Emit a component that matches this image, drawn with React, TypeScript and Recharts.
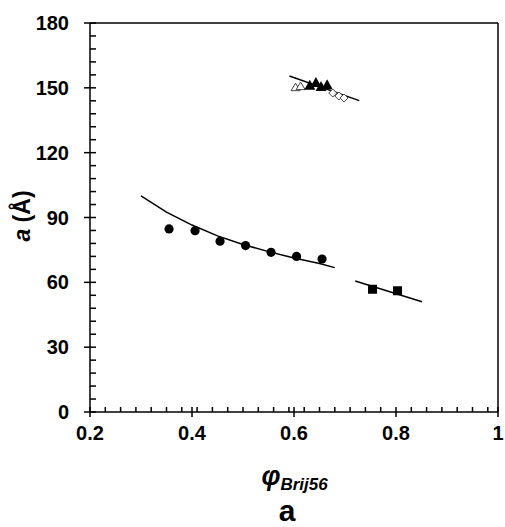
import React from 'react';
import { ScatterChart, Scatter, XAxis, YAxis, ReferenceLine } from 'recharts';

// ---- tick values ----
const xMajorTicks = [0.2, 0.4, 0.6, 0.8, 1.0];
const xMinorTicks = [0.23, 0.26, 0.29, 0.32, 0.35, 0.38, 0.41, 0.44, 0.47, 0.5, 0.53, 0.56, 0.59, 0.62, 0.65, 0.68, 0.71, 0.74, 0.77, 0.83, 0.86, 0.89, 0.92, 0.95, 0.98];
const xTickLabels = ['0.2', '0.4', '0.6', '0.8', '1'];
const yMajorTicks = [0, 30, 60, 90, 120, 150, 180];
const yMinorTicks = [6, 12, 18, 24, 36, 42, 48, 54, 66, 72, 78, 84, 96, 102, 108, 114, 126, 132, 138, 144, 156, 162, 168, 174];
const yTickLabels = ['0', '30', '60', '90', '120', '150', '180'];

// ---- series: filled circles ----
const circlePhi = [0.355, 0.406, 0.455, 0.505, 0.555, 0.605, 0.655];
const circleA = [84.7, 83.9, 79.0, 77.0, 73.9, 72.0, 70.8];
// fit curve for circles
const circleFitPhi = [0.30, 0.35, 0.40, 0.45, 0.50, 0.55, 0.60, 0.65, 0.68];
const circleFitA = [100.0, 92.5, 86.5, 81.5, 77.5, 74.2, 71.3, 68.7, 66.8];

// ---- series: filled squares ----
const squarePhi = [0.754, 0.803];
const squareA = [56.8, 56.1];
const squareFitPhi = [0.72, 0.851];
const squareFitA = [60.6, 51.0];

// ---- series: triangles / diamonds (top cluster) ----
const triPhi = [0.631, 0.643, 0.653, 0.665];
const triA = [151.2, 152.5, 150.6, 151.4];
const openTriPhi = [0.603, 0.613];
const openTriA = [150.3, 150.8];
const diamondPhi = [0.676, 0.688, 0.698];
const diamondA = [147.6, 146.2, 145.3];
const topFitPhi = [0.591, 0.728];
const topFitA = [155.5, 144.1];

const zip = (xs: number[], ys: number[]) => xs.map((x, i) => ({ phi: x, a: ys[i] }));

const circles = zip(circlePhi, circleA);
const circleFit = zip(circleFitPhi, circleFitA);
const squares = zip(squarePhi, squareA);
const squareFit = zip(squareFitPhi, squareFitA);
const triangles = zip(triPhi, triA);
const openTriangles = zip(openTriPhi, openTriA);
const diamonds = zip(diamondPhi, diamondA);
const topFit = zip(topFitPhi, topFitA);

const FONT = '"Liberation Sans", Arial, sans-serif';

const majorIndex = (v: number, list: number[]) => list.findIndex((m) => Math.abs(m - v) < 1e-9);

const XTick = (props: any) => {
  const { x, y, payload } = props;
  const idx = majorIndex(payload.value, xMajorTicks);
  if (idx >= 0) {
    return (
      <g>
        <line x1={x} x2={x} y1={y - 5} y2={y + 5} stroke="#000" strokeWidth={1.5} />
        <text x={x} y={y + 28} textAnchor="middle" fontFamily={FONT} fontWeight="bold" fontSize={20} fill="#000">
          {xTickLabels[idx]}
        </text>
      </g>
    );
  }
  return <line x1={x} x2={x} y1={y - 5} y2={y} stroke="#000" strokeWidth={1.5} />;
};

const YTick = (props: any) => {
  const { x, y, payload } = props;
  const idx = majorIndex(payload.value, yMajorTicks);
  if (idx >= 0) {
    return (
      <g>
        <line x1={x - 6} x2={x + 6} y1={y} y2={y} stroke="#000" strokeWidth={1.5} />
        <text x={x - 21} y={y + 7} textAnchor="end" fontFamily={FONT} fontWeight="bold" fontSize={20} fill="#000">
          {yTickLabels[idx]}
        </text>
      </g>
    );
  }
  return <line x1={x} x2={x + 6} y1={y} y2={y} stroke="#000" strokeWidth={1.5} />;
};

const XLabel = () => (
  <g>
    <text x={294.5} y={485} textAnchor="middle" fontFamily={FONT} fontWeight="bold" fontStyle="italic" fill="#000">
      <tspan fontSize={27}>φ</tspan>
      <tspan fontSize={17} dy={5}>Brij56</tspan>
    </text>
    <text x={287} y={521} textAnchor="middle" fontFamily={FONT} fontWeight="bold" fontSize={30} fill="#000">
      a
    </text>
  </g>
);

const YLabel = () => (
  <text x={30} y={216} transform="rotate(-90, 30, 216)" textAnchor="middle" fontFamily={FONT} fontWeight="bold" fontSize={23} fill="#000">
    <tspan fontStyle="italic">a</tspan>
    <tspan> (Å)</tspan>
  </text>
);

const Empty = () => <g />;

const Circle = (p: any) => <circle cx={p.cx} cy={p.cy} r={4.6} fill="#000" />;
const Square = (p: any) => <rect x={p.cx - 4.5} y={p.cy - 4.5} width={9} height={9} fill="#000" />;
const FilledTri = (p: any) => (
  <polygon points={`${p.cx},${p.cy - 5.5} ${p.cx - 5.5},${p.cy + 4.5} ${p.cx + 5.5},${p.cy + 4.5}`} fill="#000" />
);
const OpenTri = (p: any) => (
  <polygon points={`${p.cx},${p.cy - 4} ${p.cx - 4.5},${p.cy + 3.5} ${p.cx + 4.5},${p.cy + 3.5}`} fill="#fff" stroke="#444" strokeWidth={1} />
);
const Diamond = (p: any) => (
  <polygon points={`${p.cx},${p.cy - 4} ${p.cx + 4},${p.cy} ${p.cx},${p.cy + 4} ${p.cx - 4},${p.cy}`} fill="#fff" stroke="#444" strokeWidth={1} />
);

export default function App() {
  return (
    <div style={{ width: 505, height: 527, overflow: 'hidden' }}>
      <style>{'body{margin:0}'}</style>
      <ScatterChart width={505} height={527} margin={{ top: 23, right: 7, bottom: 0, left: 0 }}>
        <XAxis
          type="number"
          dataKey="phi"
          domain={[0.2, 1]}
          ticks={[...xMajorTicks, ...xMinorTicks].sort((a, b) => a - b)}
          interval={0}
          tickLine={false}
          tickSize={0}
          tickMargin={0}
          tick={<XTick />}
          axisLine={{ stroke: '#000', strokeWidth: 1.5 }}
          height={115}
          allowDataOverflow
          label={<XLabel />}
        />
        <YAxis
          type="number"
          dataKey="a"
          domain={[0, 180]}
          ticks={[...yMajorTicks, ...yMinorTicks].sort((a, b) => a - b)}
          interval={0}
          tickLine={false}
          tickSize={0}
          tickMargin={0}
          tick={<YTick />}
          axisLine={{ stroke: '#000', strokeWidth: 1.5 }}
          width={90}
          allowDataOverflow
          label={<YLabel />}
        />
        <ReferenceLine y={180} stroke="#000" strokeWidth={1.5} />
        <ReferenceLine x={1} stroke="#000" strokeWidth={1.5} />
        <Scatter data={circleFit} line={{ stroke: '#000', strokeWidth: 1.5 }} shape={<Empty />} isAnimationActive={false} />
        <Scatter data={squareFit} line={{ stroke: '#000', strokeWidth: 1.5 }} shape={<Empty />} isAnimationActive={false} />
        <Scatter data={topFit} line={{ stroke: '#000', strokeWidth: 1.5 }} shape={<Empty />} isAnimationActive={false} />
        <Scatter data={circles} shape={<Circle />} isAnimationActive={false} />
        <Scatter data={squares} shape={<Square />} isAnimationActive={false} />
        <Scatter data={openTriangles} shape={<OpenTri />} isAnimationActive={false} />
        <Scatter data={diamonds} shape={<Diamond />} isAnimationActive={false} />
        <Scatter data={triangles} shape={<FilledTri />} isAnimationActive={false} />
      </ScatterChart>
    </div>
  );
}
